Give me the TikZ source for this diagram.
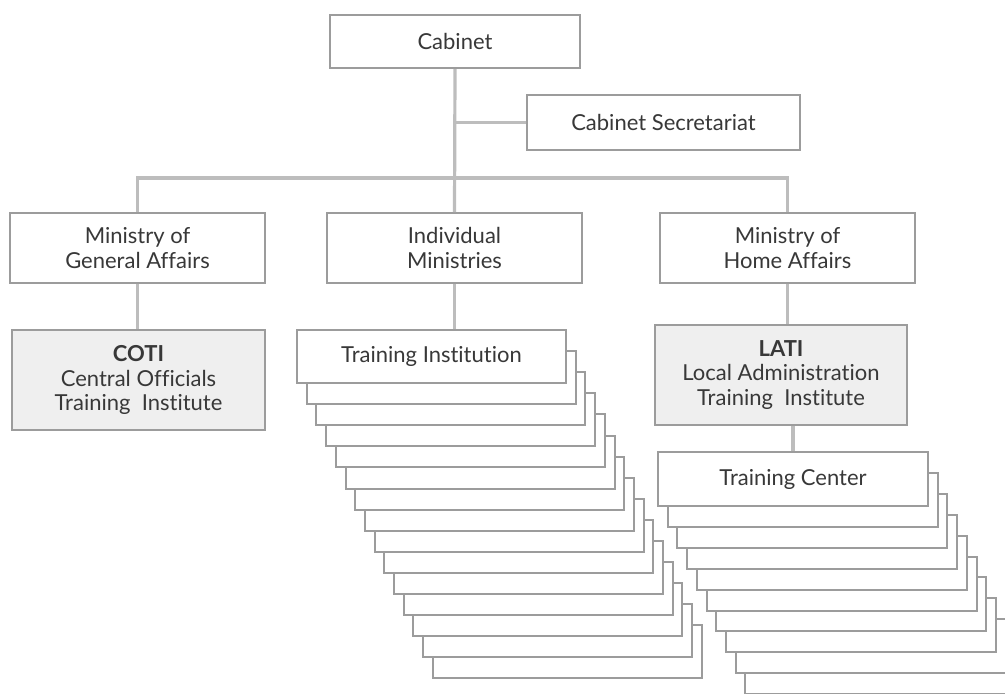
\documentclass[tikz,border=0pt]{standalone}
\usepackage{fontspec}
\setmainfont{Lato}[Ligatures={NoCommon,NoRare}]
\definecolor{boxline}{HTML}{9C9C9C}
\definecolor{conline}{HTML}{BDBDBD}
\definecolor{txt}{HTML}{383838}
\definecolor{shade}{HTML}{EFEFEF}
\begin{document}
\begin{tikzpicture}[x=0.75pt,y=-0.75pt,
  box/.style={draw=boxline,line width=1.5pt,fill=white,text=txt,inner sep=0pt,align=center,
    font=\fontsize{16.5}{18.5}\selectfont},
  sbox/.style={box,fill=shade},
  conn/.style={draw=conline,line width=2.4pt}]
\clip (0,0) rectangle (1005,693);
\fill[white] (0,0) rectangle (1005,693);
% top level
\node[box,minimum width=187.5pt,minimum height=39.75pt] (cab) at (455,41.5) {Cabinet};
\node[box,minimum width=204.75pt,minimum height=41.25pt] (sec) at (663.5,122.5) {Cabinet Secretariat};
\node[box,minimum width=191.25pt,minimum height=52.5pt] (mga) at (137.5,248) {Ministry of\\General Affairs};
\node[box,minimum width=191.25pt,minimum height=52.5pt] (im) at (454.5,248) {Individual\\Ministries};
\node[box,minimum width=191.25pt,minimum height=52.5pt] (mha) at (787.5,248) {Ministry of\\Home Affairs};
\node[sbox,minimum width=189.75pt,minimum height=75pt] (coti) at (138.5,380) {\textbf{COTI}\\Central Officials\\Training~~Institute};
\node[sbox,minimum width=189pt,minimum height=75pt] (lati) at (781,375) {\textbf{LATI}\\Local Administration\\Training~~Institute};
% stacks: training institutions
\foreach \k in {14,13,...,1}{
  \node[box,minimum width=201.75pt,minimum height=39.75pt] (ti\k) at (431.5+9.7*\k,356.5+21.1*\k) {};
}
\node[box,minimum width=201.75pt,minimum height=39.75pt] (ti) at (431.5,356.5) {Training Institution};
% stacks: training centers
\foreach \k in {9,8,...,1}{
  \node[box,minimum width=202.5pt,minimum height=40.5pt] (tc\k) at (793+9.7*\k,479+20.9*\k) {};
}
\node[box,minimum width=202.5pt,minimum height=40.5pt] (tc) at (793,479) {Training Center};
% connectors
\coordinate (busy) at (0,178);
\draw[conn] (cab.south) -- (im.north);
\draw[conn] (cab.south |- sec.west) -- (sec.west);
\draw[conn] (mga.north) -- (mga.north |- busy) -- (mha.north |- busy) -- (mha.north);
\draw[conn] (mga.south) -- (coti.north -| mga.south);
\draw[conn] (im.south) -- (ti.north -| im.south);
\draw[conn] (mha.south) -- (lati.north -| mha.south);
\draw[conn] (lati.south -| tc.north) -- (tc.north);
\end{tikzpicture}
\end{document}
